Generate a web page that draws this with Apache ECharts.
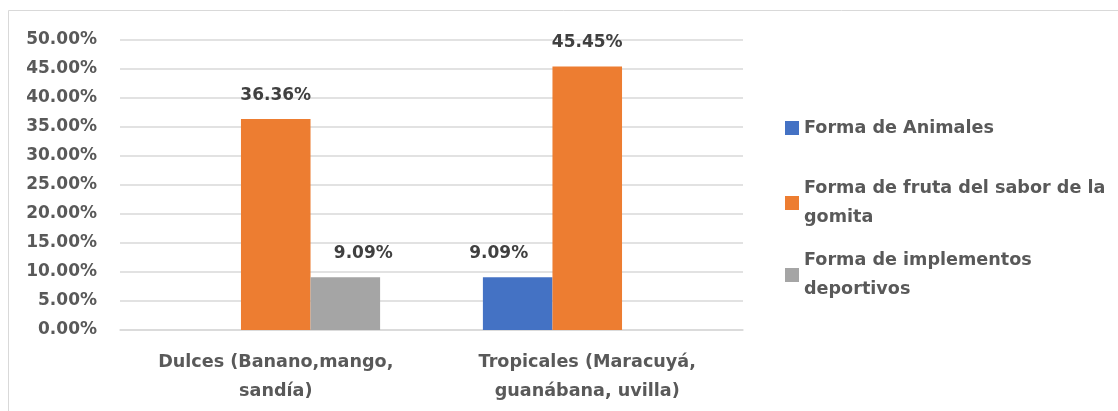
<!DOCTYPE html>
<html>
<head>
<meta charset="utf-8">
<script src="https://cdn.jsdelivr.net/npm/echarts@6/dist/echarts.min.js"></script>
<style>
  html, body { margin: 0; padding: 0; background: #ffffff; }
  #chart { width: 1118px; height: 411px; }
</style>
</head>
<body>
<div id="chart"></div>
<script>
// Categories (flavour groups) and the share of each gummy shape, in percent
const categories = ['Dulces (Banano,mango, sandía)', 'Tropicales (Maracuyá, guanábana, uvilla)'];
const seriesNames = ['Forma de Animales', 'Forma de fruta del sabor de la gomita', 'Forma de implementos deportivos'];
const animales = [null, 9.09];
const fruta = [36.36, 45.45];
const implementos = [9.09, null];
const yTicks = { min: 0, max: 50, interval: 5 };

const FONT = 'DejaVu Sans';
const colors = ['#4472C4', '#ED7D31', '#A5A5A5'];

const labelBase = {
  show: true,
  position: 'top',
  distance: 15,
  fontFamily: FONT,
  fontWeight: 'bold',
  fontSize: 17,
  color: '#404040',
  formatter: p => p.value.toFixed(2) + '%'
};

// Labels of the small bars sit nudged away from the neighbouring tall bar
function withLabelShift(values, shifts) {
  return values.map((v, i) => (v == null ? null : {
    value: v,
    label: shifts[i] ? { offset: [shifts[i], 0] } : undefined
  }));
}

function legendFor(name, top, twoLines) {
  return {
    data: [name],
    orient: 'vertical',
    left: 785,
    top: top,
    padding: 0,
    itemWidth: 14,
    itemHeight: 14,
    itemGap: 5,
    icon: 'rect',
    selectedMode: false,
    formatter: n => n.replace(' gomita', '\ngomita').replace(' deportivos', '\ndeportivos'),
    textStyle: {
      fontFamily: FONT,
      fontWeight: 'bold',
      fontSize: 17.6,
      color: '#595959',
      lineHeight: 29,
      padding: twoLines ? [29, 0, 0, 0] : 0
    }
  };
}

const chart = echarts.init(document.getElementById('chart'), null, { renderer: 'canvas' });
chart.setOption({
  animation: false,
  backgroundColor: '#ffffff',
  color: colors,
  graphic: [{
    type: 'rect',
    shape: { x: 8.5, y: 10.5, width: 1300, height: 600 },
    style: { fill: 'none', stroke: '#D9D9D9', lineWidth: 1 },
    silent: true,
    z: -10
  }],
  legend: [
    legendFor(seriesNames[0], 113.5, false),
    legendFor(seriesNames[1], 159.5, true),
    legendFor(seriesNames[2], 231.5, true)
  ],
  grid: { left: 120, right: 375, top: 40, height: 290, containLabel: false },
  xAxis: {
    type: 'category',
    data: categories,
    axisLine: { show: true, lineStyle: { color: '#D9D9D9', width: 1.5 } },
    axisTick: { show: false },
    axisLabel: {
      margin: 18,
      fontFamily: FONT,
      fontWeight: 'bold',
      fontSize: 17.6,
      color: '#595959',
      lineHeight: 29,
      align: 'center',
      formatter: s => s.replace(', ', ',\n')
    }
  },
  yAxis: {
    type: 'value',
    min: yTicks.min,
    max: yTicks.max,
    interval: yTicks.interval,
    axisLine: { show: false },
    axisTick: { show: false },
    splitLine: { lineStyle: { color: '#D9D9D9', width: 1.5 } },
    axisLabel: {
      margin: 23,
      fontFamily: FONT,
      fontWeight: 'bold',
      fontSize: 17,
      color: '#595959',
      formatter: v => v.toFixed(2) + '%'
    }
  },
  series: [
    {
      name: seriesNames[0], type: 'bar', barGap: '0%', barCategoryGap: '33%',
      data: withLabelShift(animales, [0, -19]), label: labelBase
    },
    {
      name: seriesNames[1], type: 'bar', barGap: '0%', barCategoryGap: '33%',
      data: withLabelShift(fruta, [0, 0]), label: labelBase
    },
    {
      name: seriesNames[2], type: 'bar', barGap: '0%', barCategoryGap: '33%',
      data: withLabelShift(implementos, [18, 0]), label: labelBase
    }
  ]
});
</script>
</body>
</html>
